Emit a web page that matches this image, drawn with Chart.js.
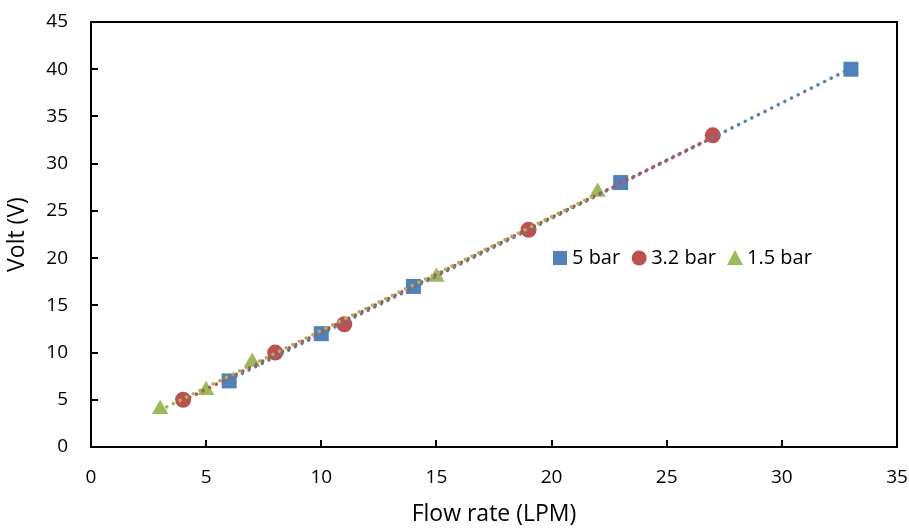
<!DOCTYPE html>
<html>
<head>
<meta charset="utf-8">
<script src="https://cdn.jsdelivr.net/npm/chart.js@4.4.1/dist/chart.umd.min.js"></script>
<style>
  html, body { margin: 0; padding: 0; background: #fff; }
  #wrap { width: 909px; height: 528px; }
</style>
</head>
<body>
<div id="wrap"><canvas id="chart" width="909" height="528"></canvas></div>
<script>
// values
const seriesNames = ['5 bar', '3.2 bar', '1.5 bar']
const flow5 = [6, 10, 14, 23, 33]
const volt5 = [7, 12, 17, 28, 40]
const flow32 = [4, 8, 11, 19, 27]
const volt32 = [5, 10, 13, 23, 33]
const flow15 = [3, 5, 7, 15, 22]
const volt15 = [4, 6, 9, 18, 27]

// dotted trend lines, start/end as seen in the picture
const trend5 = [[6, 7.1], [33, 40.1]]
const trend32 = [[4, 4.9], [27, 32.8]]
const trend15 = [[3, 3.9], [22, 26.8]]

const xTicks = [0, 5, 10, 15, 20, 25, 30, 35]
const yTicks = [0, 5, 10, 15, 20, 25, 30, 35, 40, 45]

const colors = ['#4F81BD', '#C0504D', '#9BBB59']
const FONT = '"Open Sans", Lato, sans-serif'

const toPoints = (xs, ys) => xs.map((x, i) => ({ x: x, y: ys[i] }))
const toLine = (pairs) => pairs.map((p) => ({ x: p[0], y: p[1] }))

function markerSet(label, xs, ys, color, style, radius) {
  return {
    label: label,
    data: toPoints(xs, ys),
    backgroundColor: color,
    borderColor: color,
    borderWidth: 0,
    pointStyle: style,
    pointRadius: radius,
    pointHoverRadius: radius,
    showLine: false,
    order: 10,
  }
}

function trendSet(pairs, color, order) {
  return {
    label: 'trend',
    data: toLine(pairs),
    borderColor: color,
    borderWidth: 3.5,
    borderDash: [0.1, 7.3],
    borderCapStyle: 'round',
    pointRadius: 0,
    showLine: true,
    fill: false,
    order: order,
  }
}

// frame, inward tick marks and the in-plot legend
const framePlugin = {
  id: 'frame',
  afterDatasetsDraw(chart) {
    const { ctx, chartArea: a, scales } = chart
    ctx.save()
    ctx.strokeStyle = '#000'
    ctx.lineWidth = 2
    ctx.beginPath()
    ctx.moveTo(a.left, a.top)
    ctx.lineTo(a.right, a.top)
    ctx.lineTo(a.right, a.bottom)
    ctx.stroke()
    ctx.lineWidth = 2
    ctx.beginPath()
    yTicks.slice(1, -1).forEach((v) => {
      const y = Math.round(scales.y.getPixelForValue(v))
      ctx.moveTo(a.left, y)
      ctx.lineTo(a.left + 7, y)
    })
    xTicks.slice(1, -1).forEach((v) => {
      const x = Math.round(scales.x.getPixelForValue(v))
      ctx.moveTo(x, a.bottom)
      ctx.lineTo(x, a.bottom - 7)
    })
    ctx.stroke()

    // legend
    ctx.font = '20px ' + FONT
    ctx.textBaseline = 'middle'
    ctx.fillStyle = '#000'
    let x = 553
    const y = 258
    const styles = ['rect', 'circle', 'triangle']
    seriesNames.forEach((name, i) => {
      ctx.fillStyle = colors[i]
      ctx.beginPath()
      if (styles[i] === 'rect') {
        ctx.rect(x, y - 7, 14, 14)
      } else if (styles[i] === 'circle') {
        ctx.arc(x + 7, y, 7.5, 0, Math.PI * 2)
      } else {
        ctx.moveTo(x + 7, y - 8)
        ctx.lineTo(x + 15, y + 7)
        ctx.lineTo(x - 1, y + 7)
        ctx.closePath()
      }
      ctx.fill()
      ctx.fillStyle = '#000'
      ctx.fillText(name, x + 19, y)
      x += 19 + ctx.measureText(name).width + 12
    })
    ctx.restore()
  },
}

new Chart(document.getElementById('chart'), {
  type: 'scatter',
  data: {
    datasets: [
      markerSet(seriesNames[0], flow5, volt5, colors[0], 'rect', 10.6),
      markerSet(seriesNames[1], flow32, volt32, colors[1], 'circle', 8),
      markerSet(seriesNames[2], flow15, volt15, colors[2], 'triangle', 9.5),
      trendSet(trend5, colors[0], 3),
      trendSet(trend32, colors[1], 2),
      trendSet(trend15, colors[2], 1),
    ],
  },
  options: {
    responsive: false,
    animation: false,
    devicePixelRatio: 1,
    layout: { padding: { top: 22, right: 12, left: 0, bottom: 0 } },
    plugins: {
      legend: { display: false },
      tooltip: { enabled: false },
    },
    scales: {
      x: {
        type: 'linear',
        min: 0,
        max: 35,
        afterBuildTicks: (s) => { s.ticks = xTicks.map((v) => ({ value: v })) },
        afterFit: (s) => { s.height = 81; s.paddingLeft = 0; s.paddingRight = 0 },
        grid: { display: false, drawTicks: false },
        border: { display: true, color: '#000', width: 2 },
        ticks: { color: '#000', font: { family: FONT, size: 19 }, padding: 19, maxRotation: 0 },
        title: { display: true, text: 'Flow rate (LPM)', color: '#000', font: { family: FONT, size: 23 }, padding: { top: 0, bottom: 0 } },
      },
      y: {
        type: 'linear',
        min: 0,
        max: 45,
        afterBuildTicks: (s) => { s.ticks = yTicks.map((v) => ({ value: v })) },
        afterFit: (s) => { s.width = 91; s.paddingTop = 0; s.paddingBottom = 0 },
        grid: { display: false, drawTicks: false },
        border: { display: true, color: '#000', width: 2 },
        ticks: { color: '#000', font: { family: FONT, size: 19 }, padding: 23 },
        title: { display: true, text: 'Volt (V)', color: '#000', font: { family: FONT, size: 23 }, padding: { top: 4, bottom: 0 } },
      },
    },
  },
  plugins: [framePlugin],
})
</script>
</body>
</html>
